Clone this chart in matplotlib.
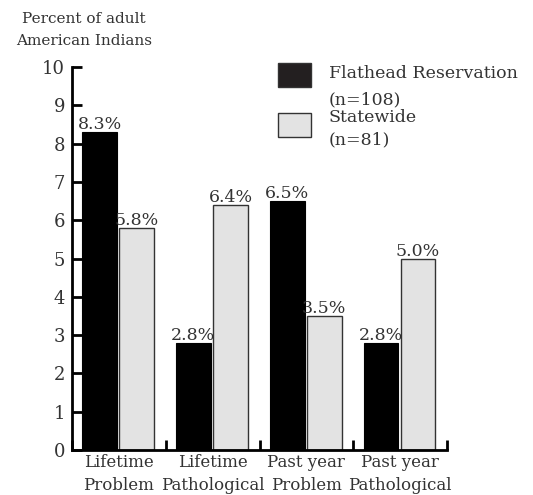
import matplotlib.pyplot as plt
from matplotlib.patches import Rectangle
import numpy as np

categories = ["Lifetime\nProblem", "Lifetime\nPathological", "Past year\nProblem", "Past year\nPathological"]
flathead = [8.3, 2.8, 6.5, 2.8]
statewide = [5.8, 6.4, 3.5, 5.0]
series_names = [["Flathead Reservation", "(n=108)"], ["Statewide", "(n=81)"]]

plt.rcParams['font.family'] = ['DejaVu Serif']
FS = 12
TXT = '#333333'

fig = plt.figure(figsize=(5.33, 4.95), dpi=100)
ax = fig.add_axes([72/533, 45/495, 375/533, 383/495])

x = np.arange(len(categories))
w = 0.37
b1 = ax.bar(x + 0.295, flathead, w, color='black', edgecolor='black', linewidth=0.8)
b2 = ax.bar(x + 0.69, statewide, w, color='#e3e3e3', edgecolor='#333333', linewidth=1.0)

for bars, vals in ((b1, flathead), (b2, statewide)):
    for r, v in zip(bars, vals):
        ax.text(r.get_x() + r.get_width()/2, v + 0.07, f"{v:.1f}%", ha='center', va='baseline',
                fontsize=12.5, color=TXT)

ax.set_xlim(0, 4)
ax.set_ylim(0, 10)
ax.set_yticks(range(11))
ax.set_xticks(range(5))
ax.set_xticklabels([])
ax.set_xticks(x + 0.5, minor=True)
ax.set_xticklabels(categories, minor=True, fontsize=FS, color=TXT, linespacing=1.45)
ax.tick_params(axis='x', which='minor', length=0, pad=3)
ax.tick_params(axis='x', which='major', direction='in', length=7, width=2)
ax.tick_params(axis='y', direction='in', length=7, width=2, labelsize=13, labelcolor=TXT, pad=5)
for s in ('top', 'right'):
    ax.spines[s].set_visible(False)
for s in ('left', 'bottom'):
    ax.spines[s].set_linewidth(2)

fig.text(84/533, 1 - 30/495, "Percent of adult\nAmerican Indians", ha='center', va='center',
         fontsize=11, color=TXT, linespacing=1.75)

# legend drawn by hand
colors = ['#231f20', '#e3e3e3']
tops = [63, 113]
line_y = [[73, 100], [117, 140]]
for lines, c, t, ys in zip(series_names, colors, tops, line_y):
    fig.patches.append(Rectangle((278/533, 1 - (t + 24)/495), 33/533, 24/495, transform=fig.transFigure,
                                 facecolor=c, edgecolor='#333333', linewidth=1))
    for s, y in zip(lines, ys):
        fig.text(329/533, 1 - y/495, s, ha='left', va='center', fontsize=12.5, color=TXT)

fig.savefig("out.png", dpi=100)
